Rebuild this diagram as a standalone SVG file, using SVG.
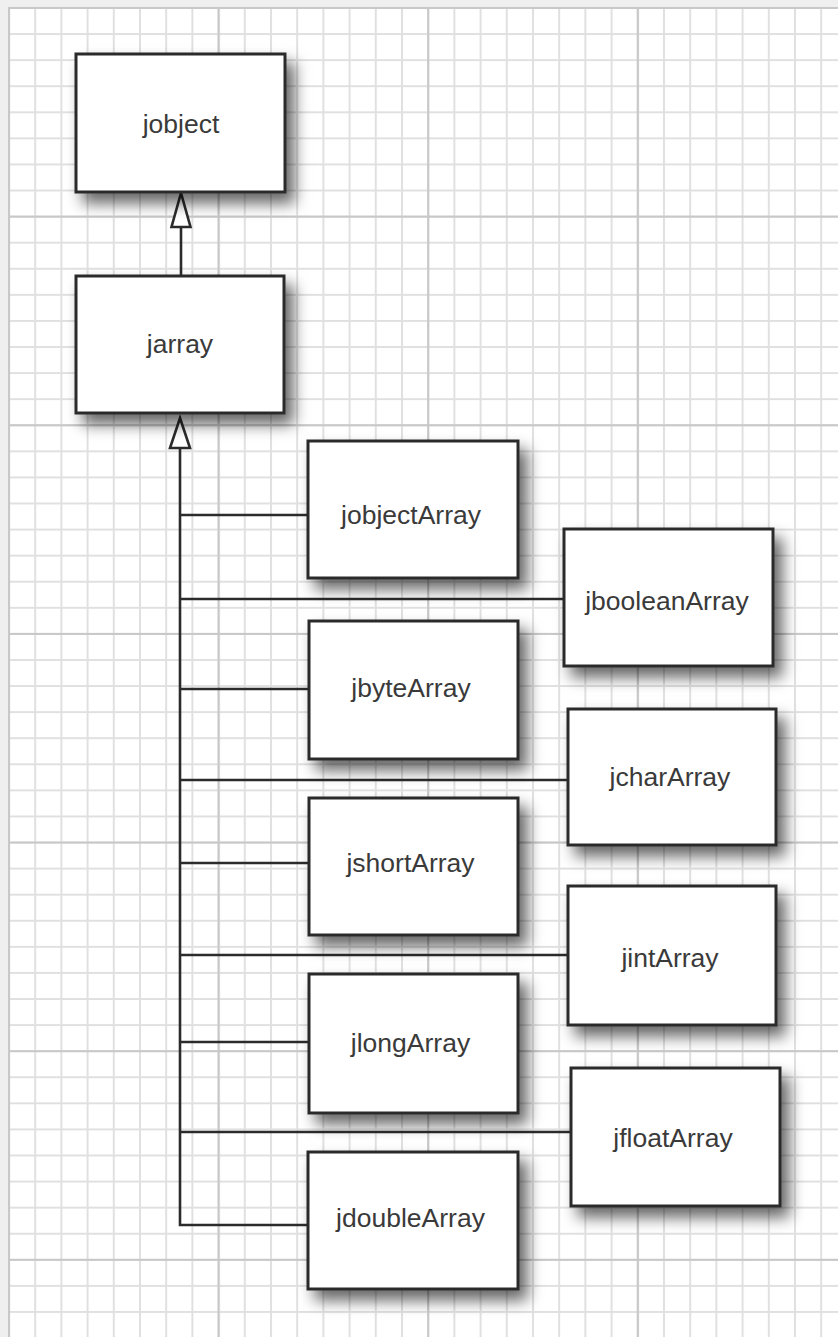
<svg xmlns="http://www.w3.org/2000/svg" width="838" height="1337" viewBox="0 0 838 1337">
  <style>
    .box rect { fill: #ffffff; stroke: #2b2b2b; stroke-width: 3; }
    .box text { font-family: "Liberation Sans", Arial, sans-serif; font-size: 26.5px; fill: #3a3a3a; text-anchor: middle; }
    .conn { fill: none; stroke: #2b2b2b; stroke-width: 2.6; }
    .head { fill: #ffffff; stroke: #2b2b2b; stroke-width: 2.6; stroke-linejoin: miter; }
  </style>
  <defs>
    <pattern id="minor" patternUnits="userSpaceOnUse" x="8" y="7" width="26.2" height="26.08">
      <path d="M0 1 H26.2 M1 0 V26.08" fill="none" stroke="#e0e0e0" stroke-width="2"/>
    </pattern>
    <pattern id="major" patternUnits="userSpaceOnUse" x="8" y="7" width="209.6" height="208.64">
      <path d="M0 1 H209.6 M1 0 V208.64" fill="none" stroke="#c8c8c8" stroke-width="2.2"/>
    </pattern>
    <filter id="shadow" x="-25%" y="-25%" width="160%" height="160%">
      <feDropShadow dx="8" dy="10" stdDeviation="7.5" flood-color="#000000" flood-opacity="0.6"/>
    </filter>
  </defs>

  <!-- background -->
  <rect x="0" y="0" width="838" height="1337" fill="#efefef"/>
  <rect x="9" y="8" width="829" height="1329" fill="#ffffff"/>
  <rect x="8" y="7" width="830" height="1330" fill="url(#minor)"/>
  <rect x="8" y="7" width="830" height="1330" fill="url(#major)"/>

  <!-- connectors -->
  <g id="connectors">
    <line class="conn" x1="181" y1="227" x2="181" y2="276"/>
    <polygon class="head" points="181,193 190.5,227 171.5,227"/>
    <path class="conn" d="M180 448 V1225 H308"/>
    <polygon class="head" points="180,418 190,448 170,448"/>
    <line class="conn" x1="180" y1="515" x2="308" y2="515"/>
    <line class="conn" x1="180" y1="599" x2="564" y2="599"/>
    <line class="conn" x1="180" y1="689" x2="309" y2="689"/>
    <line class="conn" x1="180" y1="780" x2="568" y2="780"/>
    <line class="conn" x1="180" y1="863" x2="309" y2="863"/>
    <line class="conn" x1="180" y1="955" x2="568" y2="955"/>
    <line class="conn" x1="180" y1="1042" x2="309" y2="1042"/>
    <line class="conn" x1="180" y1="1132" x2="571" y2="1132"/>
  </g>

  <!-- nodes -->
  <g id="jobject" class="box">
    <rect x="76" y="54" width="209" height="138" filter="url(#shadow)"/>
    <text x="181" y="133">jobject</text>
  </g>
  <g id="jarray" class="box">
    <rect x="76" y="276" width="208" height="137" filter="url(#shadow)"/>
    <text x="180" y="353">jarray</text>
  </g>
  <g id="jobjectArray" class="box">
    <rect x="308" y="441" width="210" height="137" filter="url(#shadow)"/>
    <text x="411" y="524">jobjectArray</text>
  </g>
  <g id="jbooleanArray" class="box">
    <rect x="564" y="529" width="209" height="137" filter="url(#shadow)"/>
    <text x="667" y="610">jbooleanArray</text>
  </g>
  <g id="jbyteArray" class="box">
    <rect x="309" y="621" width="209" height="138" filter="url(#shadow)"/>
    <text x="411" y="697">jbyteArray</text>
  </g>
  <g id="jcharArray" class="box">
    <rect x="568" y="709" width="208" height="136" filter="url(#shadow)"/>
    <text x="670" y="786">jcharArray</text>
  </g>
  <g id="jshortArray" class="box">
    <rect x="309" y="798" width="209" height="137" filter="url(#shadow)"/>
    <text x="410.5" y="872">jshortArray</text>
  </g>
  <g id="jintArray" class="box">
    <rect x="568" y="886" width="208" height="139" filter="url(#shadow)"/>
    <text x="670" y="967">jintArray</text>
  </g>
  <g id="jlongArray" class="box">
    <rect x="309" y="974" width="209" height="139" filter="url(#shadow)"/>
    <text x="410.5" y="1052">jlongArray</text>
  </g>
  <g id="jfloatArray" class="box">
    <rect x="571" y="1068" width="209" height="138" filter="url(#shadow)"/>
    <text x="673" y="1147">jfloatArray</text>
  </g>
  <g id="jdoubleArray" class="box">
    <rect x="308" y="1152" width="210" height="137" filter="url(#shadow)"/>
    <text x="410.5" y="1227">jdoubleArray</text>
  </g>
</svg>
